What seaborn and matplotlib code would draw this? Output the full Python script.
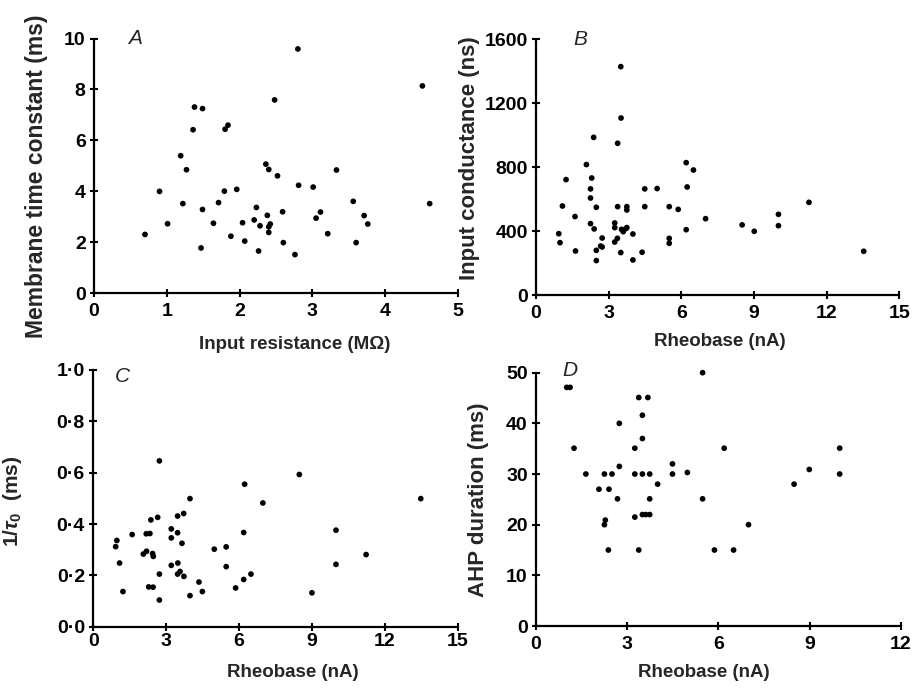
import matplotlib
matplotlib.use("Agg")
import matplotlib.pyplot as plt
import seaborn as sns
import pandas as pd

# ---------------- Data ----------------
# Panel A: input resistance (MOhm) vs membrane time constant (ms)
a_x = [0.70, 0.90, 1.01, 1.19, 1.27, 1.22, 1.36, 1.38, 1.49, 1.49, 1.47, 1.64,
       1.71, 1.79, 1.80, 1.84, 1.88, 1.96, 2.04, 2.07, 2.20, 2.23, 2.26, 2.28,
       2.36, 2.40, 2.38, 2.40, 2.42, 2.40, 2.48, 2.52, 2.59, 2.60, 2.76, 2.80,
       2.81, 3.01, 3.05, 3.11, 3.21, 3.33, 3.56, 3.60, 3.71, 3.76, 4.51, 4.61]
a_y = [2.31, 4.00, 2.73, 5.40, 4.85, 3.52, 6.42, 7.31, 7.25, 3.29, 1.78, 2.75,
       3.56, 4.01, 6.44, 6.60, 2.24, 4.08, 2.77, 2.05, 2.88, 3.37, 1.66, 2.65,
       5.07, 4.86, 3.06, 2.61, 2.72, 2.39, 7.59, 4.61, 3.20, 1.99, 1.52, 9.59,
       4.24, 4.17, 2.95, 3.19, 2.34, 4.84, 3.61, 1.99, 3.05, 2.72, 8.14, 3.52]

# Panel B: rheobase (nA) vs input conductance (ns)
b_x = [0.94, 0.99, 1.09, 1.24, 1.61, 1.63, 2.08, 2.30, 2.25, 2.25, 2.25, 2.38,
       2.40, 2.49, 2.49, 2.49, 2.67, 2.73, 2.73, 3.25, 3.25, 3.25, 3.37, 3.37,
       3.36, 3.50, 3.51, 3.50, 3.53, 3.60, 3.71, 3.75, 3.75, 3.75, 4.00, 4.00,
       4.38, 4.49, 4.49, 5.00, 5.50, 5.50, 5.50, 5.87, 6.20, 6.24, 6.20, 6.50,
       7.00, 8.51, 9.01, 10.01, 10.01, 11.27, 13.53]
b_y = [385, 329, 558, 723, 492, 277, 817, 733, 665, 608, 448, 987,
       415, 550, 281, 217, 308, 358, 302, 452, 423, 333, 554, 950,
       356, 1429, 1108, 267, 412, 398, 417, 423, 554, 533, 383, 221,
       269, 665, 554, 667, 554, 356, 325, 537, 829, 677, 410, 783,
       479, 440, 400, 506, 435, 581, 275]

# Panel C: rheobase (nA) vs 1/tau0 (ms)
c_x = [0.92, 0.97, 1.08, 1.22, 1.60, 2.06, 2.19, 2.18, 2.33, 2.28, 2.46, 2.44,
       2.47, 2.37, 2.65, 2.72, 2.72, 2.72, 3.21, 3.21, 3.21, 3.47, 3.47, 3.48,
       3.47, 3.57, 3.65, 3.72, 3.73, 3.98, 3.98, 4.35, 4.49, 4.98, 5.47, 5.47,
       5.86, 6.19, 6.19, 6.23, 6.49, 6.98, 8.48, 9.00, 9.99, 9.99, 11.23, 13.48]
c_y = [0.312, 0.336, 0.248, 0.137, 0.359, 0.283, 0.294, 0.362, 0.363, 0.155,
       0.154, 0.285, 0.274, 0.416, 0.426, 0.646, 0.205, 0.104, 0.381, 0.346,
       0.239, 0.366, 0.431, 0.248, 0.205, 0.215, 0.325, 0.441, 0.196, 0.499,
       0.121, 0.174, 0.137, 0.302, 0.311, 0.234, 0.151, 0.367, 0.184, 0.555,
       0.205, 0.482, 0.593, 0.132, 0.376, 0.243, 0.281, 0.499]

# Panel D: rheobase (nA) vs AHP duration (ms)
d_x = [1.01, 1.12, 1.25, 1.64, 2.07, 2.25, 2.25, 2.28, 2.38, 2.40, 2.50, 2.68,
       2.74, 2.74, 3.25, 3.25, 3.25, 3.38, 3.38, 3.50, 3.50, 3.50, 3.50, 3.61,
       3.68, 3.74, 3.74, 3.74, 4.00, 4.49, 4.49, 4.98, 5.48, 5.48, 5.87, 6.19,
       6.50, 6.99, 8.49, 8.99, 9.99, 9.99]
d_y = [47.1, 47.1, 35.1, 30.0, 27.0, 30.0, 20.0, 20.9, 15.0, 27.0, 30.0, 25.1,
       31.5, 40.0, 35.1, 30.0, 21.5, 45.1, 15.0, 41.6, 37.0, 30.0, 22.0, 22.0,
       45.1, 30.0, 25.1, 22.0, 28.0, 32.0, 30.0, 30.3, 50.0, 25.1, 15.0, 35.1,
       15.0, 20.0, 28.0, 30.9, 35.1, 30.0]

a_xticks = [0, 1, 2, 3, 4, 5]
a_yticks = [0, 2, 4, 6, 8, 10]
b_xticks = [0, 3, 6, 9, 12, 15]
b_yticks = [0, 400, 800, 1200, 1600]
c_xticks = [0, 3, 6, 9, 12, 15]
c_yticks = [0.0, 0.2, 0.4, 0.6, 0.8, 1.0]
c_yticklabels = ["0·0", "0·2", "0·4", "0·6", "0·8", "1·0"]
d_xticks = [0, 3, 6, 9, 12]
d_yticks = [0, 10, 20, 30, 40, 50]

# ---------------- Style ----------------
sns.set_style("ticks")
plt.rcParams['font.family'] = ['Liberation Sans', 'DejaVu Sans']
plt.rcParams['font.weight'] = 'bold'
plt.rcParams['mathtext.fontset'] = 'custom'
plt.rcParams['mathtext.it'] = 'Liberation Sans:italic:bold'
plt.rcParams['mathtext.rm'] = 'Liberation Sans:bold'

fig = plt.figure(figsize=(9.13, 6.89), dpi=100)

rects = {
    'A': [0.1030, 0.5743, 0.3987, 0.3698],
    'B': [0.5871, 0.5714, 0.3979, 0.3716],
    'C': [0.1022, 0.0904, 0.3991, 0.3726],
    'D': [0.5871, 0.0914, 0.3995, 0.3677],
}

panels = [
    ('A', a_x, a_y, (0, 5), (0, 10), a_xticks, a_yticks, None,
     'Input resistance (MΩ)', 'Membrane time constant (ms)',
     (0.55, -0.168), (-0.126, 0.46), (0.112, 1.0), 4, 16.5),
    ('B', b_x, b_y, (0, 15), (0, 1600), b_xticks, b_yticks, None,
     'Rheobase (nA)', 'Input conductance (ns)',
     (0.507, -0.147), (-0.154, 0.536), (0.121, 1.0), 4, 16),
    ('C', c_x, c_y, (0, 15), (0, 1.0), c_xticks, c_yticks, c_yticklabels,
     'Rheobase (nA)', r'1/$\tau_0$  (ms)',
     (0.547, -0.146), (-0.19, 0.49), (0.08, 0.975), 1.5, 15),
    ('D', d_x, d_y, (0, 12), (0, 50), d_xticks, d_yticks, None,
     'Rheobase (nA)', 'AHP duration (ms)',
     (0.46, -0.15), (-0.13, 0.497), (0.093, 1.01), 4, 16),
]

for (letter, xs, ys, xlim, ylim, xt, yt, ytl, xlab, ylab,
     xlabpos, ylabpos, letpos, xpad, ylabsize) in panels:
    ax = fig.add_axes(rects[letter])
    df = pd.DataFrame({'x': xs, 'y': ys})
    sns.scatterplot(data=df, x='x', y='y', ax=ax, color='black', s=17,
                    edgecolor='none', linewidth=0, clip_on=False, legend=False)
    ax.set_xlim(*xlim)
    ax.set_ylim(*ylim)
    ax.set_xticks(xt)
    ax.set_yticks(yt)
    if ytl is not None:
        ax.set_yticklabels(ytl)
    sns.despine(ax=ax)
    for sp in ['left', 'bottom']:
        ax.spines[sp].set_linewidth(1.6)
        ax.spines[sp].set_color('black')
    ax.tick_params(axis='both', direction='inout', length=6, width=1.5,
                   colors='black', labelsize=14)
    ax.tick_params(axis='x', pad=xpad)
    ax.tick_params(axis='y', pad=3)
    for lab in ax.get_xticklabels() + ax.get_yticklabels():
        lab.set_fontweight('bold')
    ax.set_xlabel(xlab, fontsize=13.5, fontweight='bold')
    ax.set_ylabel(ylab, fontsize=ylabsize, fontweight='bold')
    ax.xaxis.set_label_coords(*xlabpos)
    ax.yaxis.set_label_coords(*ylabpos)
    ax.text(letpos[0], letpos[1], letter, transform=ax.transAxes,
            fontsize=15, fontstyle='italic', fontweight='normal',
            ha='center', va='center')

fig.savefig('out.png', dpi=100, facecolor='white')
